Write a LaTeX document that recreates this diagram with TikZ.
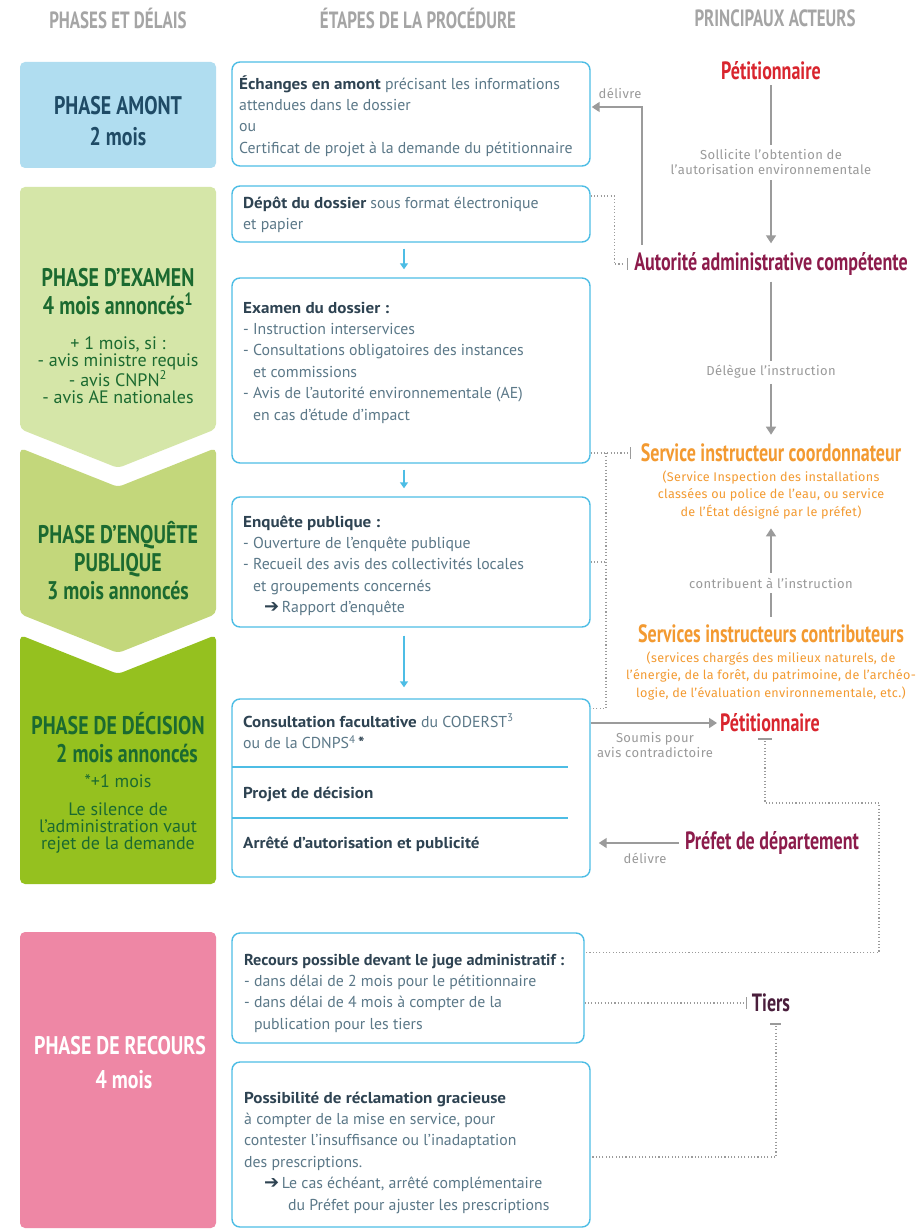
\documentclass[tikz,border=0pt]{standalone}
\usepackage{fontspec}
\setmainfont{PT Sans}
\newfontfamily\cond[FakeStretch=0.72]{PT Sans}
\newfontfamily\condph[FakeStretch=0.78]{PT Sans}
\newfontfamily\bodybold[FakeStretch=1.08]{PT Sans}
\newfontfamily\hdsix[FakeStretch=1.03]{PT Sans}
\newfontfamily\widesub[LetterSpace=2.5]{Fira Sans}
\newfontfamily\widelbl[LetterSpace=3]{Fira Sans}
\newfontfamily\dejavu{DejaVu Sans}
\usetikzlibrary{arrows.meta,fit,calc}
\definecolor{hdrgray}{HTML}{A5A5A5}
\definecolor{boxblue}{HTML}{4DBDE5}
\definecolor{headc}{HTML}{2E4352}
\definecolor{bodyc}{HTML}{5B7888}
\definecolor{amontf}{HTML}{B0DDF0}
\definecolor{amontt}{HTML}{1F4B66}
\definecolor{examf}{HTML}{D5E6A8}
\definecolor{enqf}{HTML}{C3D77B}
\definecolor{decf}{HTML}{95C11F}
\definecolor{greent}{HTML}{1B6A30}
\definecolor{recf}{HTML}{EE87A5}
\definecolor{petred}{HTML}{D9252E}
\definecolor{autmag}{HTML}{8C1B4B}
\definecolor{orangec}{HTML}{F39A31}
\definecolor{tiersc}{HTML}{4A1E3C}
\definecolor{linegray}{HTML}{9B9B9B}
\definecolor{lblgray}{HTML}{9A9A9A}
\newcommand\hd[1]{{\bodybold\bfseries\color{headc}#1}}
\newcommand\arr{{\color{headc}\dejavu\bfseries\fontsize{18}{18}\selectfont ➔}}
\begin{document}
\begin{tikzpicture}[x=1pt,y=-1pt,
  hdr/.style={font=\cond\bfseries\fontsize{23.5}{26}\selectfont, text=hdrgray, inner sep=0},
  phase/.style={font=\condph\bfseries\fontsize{25.5}{28}\selectfont, align=center, inner sep=0, text=greent},
  phasesm/.style={font=\fontsize{18}{17.3}\selectfont, align=center, inner sep=0, text=greent},
  pbox/.style={draw=boxblue, line width=1.4pt, rounded corners=8pt, inner sep=0pt, fill=white},
  btxt/.style={font=\fontsize{15.8}{21.4}\selectfont, text=bodyc, align=left, inner sep=0, anchor=north west},
  actor/.style={font=\cond\bfseries\fontsize{25}{28}\selectfont, inner sep=0},
  sub/.style={font=\widesub\fontsize{12.6}{17.5}\selectfont, text=orangec, align=center, inner sep=0},
  lbl/.style={font=\widelbl\fontsize{13}{15.5}\selectfont, text=lblgray, align=center, inner sep=0},
  gline/.style={draw=linegray, line width=1.5pt},
  garrow/.style={gline, -{Triangle[width=10pt,length=8pt]}},
  dline/.style={draw=linegray, line width=1.1pt, dash pattern=on 1.1pt off 2.2pt},
  barrow/.style={draw=boxblue, line width=1.4pt, -{Triangle[width=8pt,length=6pt]}},
  sepl/.style={draw=boxblue, line width=1.4pt}
]
\useasboundingbox (0,0) rectangle (918,1230);
\fill[white] (0,0) rectangle (918,1230);

% headers
\node[hdr] (h1) at (118,18) {PHASES ET DÉLAIS};
\node[hdr] (h2) at (418,18) {ÉTAPES DE LA PROCÉDURE};
\node[hdr] (h3) at (775,18) {PRINCIPAUX ACTEURS};

% phase shapes
\fill[amontf, rounded corners=5pt] (20,62) -- (216,62) -- (216,168) -- (20,168) -- cycle;
\fill[examf, rounded corners=5pt] (20,187) -- (216,187) -- (216,429) -- (118,468) -- (20,429) -- cycle;
\fill[enqf, rounded corners=5pt] (20,448) -- (118,487) -- (216,448) -- (216,614) -- (118,653) -- (20,614) -- cycle;
\fill[decf, rounded corners=5pt] (20,635) -- (118,674) -- (216,635) -- (216,884) -- (20,884) -- cycle;
\fill[recf, rounded corners=5pt] (20,932) -- (216,932) -- (216,1228) -- (20,1228) -- cycle;

% phase texts
\node[phase, text=amontt, font=\condph\bfseries\fontsize{25.5}{31}\selectfont] (pa) at (118,121) {PHASE AMONT\\2 mois};
\node[phase] (pe) at (118,292) {PHASE D’EXAMEN\\4 mois annoncés\textsuperscript{1}};
\node[phasesm] (pe2) at (118,370) {+ 1 mois, si :\\- avis ministre requis\\- avis CNPN\textsuperscript{2}\\- avis AE nationales};
\node[phase] (pq) at (118,561) {PHASE D’ENQUÊTE\\PUBLIQUE\\3 mois annoncés};
\node[phase] (pd) at (118,738) {PHASE DE DÉCISION\\\hspace*{18pt}2 mois annoncés};
\node[phasesm] (pd2) at (118,781) {*+1 mois};
\node[phasesm, font=\fontsize{18}{17}\selectfont] (pd3) at (118,828) {Le silence de\\l’administration vaut\\rejet de la demande};
\node[phase, text=white, font=\condph\bfseries\fontsize{25.5}{34}\selectfont] (pr) at (120,1063) {PHASE DE RECOURS\\\hspace*{8pt}4 mois};

% procedure boxes
\node[pbox, fit={(232,62)(590,166)}] (b1) {};
\node[pbox, fit={(232,186)(590,242)}] (b2) {};
\node[pbox, fit={(232,278)(590,463)}] (b3) {};
\node[pbox, fit={(232,497)(590,627)}] (b4) {};
\node[pbox, fit={(232,699)(590,877)}] (b5) {};
\node[pbox, fit={(232,933)(584,1043)}] (b6) {};
\node[pbox, fit={(232,1062)(590,1227)}] (b7) {};
\draw[sepl] (232,767) -- (568,767);
\draw[sepl] (232,818) -- (568,818);

\node[btxt] (t1) at (239,74) {\strut\hd{Échanges en amont} précisant les informations\\attendues dans le dossier\\ou\\Certificat de projet à la demande du pétitionnaire};
\node[btxt] (t2) at (243,193) {\strut\hd{Dépôt du dossier} sous format électronique\\et papier};
\node[btxt] (t3) at (243,298) {\strut\hd{Examen du dossier :}\\- Instruction interservices\\- Consultations obligatoires des instances\\\phantom{- }et commissions\\- Avis de l’autorité environnementale (AE)\\\phantom{- }en cas d’étude d’impact};
\node[btxt] (t4) at (243,512) {\strut\hd{Enquête publique :}\\- Ouverture de l’enquête publique\\- Recueil des avis des collectivités locales\\\phantom{- }et groupements concernés\\\hspace*{21pt}\arr\,Rapport d’enquête};
\node[btxt] (t5a) at (243,712) {\strut\hd{Consultation facultative} du CODERST\textsuperscript{3}\\ou de la CDNPS\textsuperscript{4}\,\hd{*}};
\node[btxt] (t5b) at (243,783) {\strut\hd{Projet de décision}};
\node[btxt] (t5c) at (243,833) {\strut\hd{Arrêté d’autorisation et publicité}};
\node[btxt] (t6) at (244,950) {\strut{\hdsix\bfseries\color{headc}Recours possible devant le juge administratif :}\\- dans délai de 2 mois pour le pétitionnaire\\- dans délai de 4 mois à compter de la\\\phantom{- }publication pour les tiers};
\node[btxt] (t7) at (244,1088) {\strut\hd{Possibilité de réclamation gracieuse}\\à compter de la mise en service, pour\\contester l’insuffisance ou l’inadaptation\\des prescriptions.\\\hspace*{20pt}\arr\,Le cas échéant, arrêté complémentaire\\\hspace*{44pt}du Préfet pour ajuster les prescriptions};

\draw[barrow, shorten <=6pt, shorten >=8pt] ([xshift=-7pt]b2.south) -- ([xshift=-7pt]b3.north);
\draw[barrow, shorten <=6pt, shorten >=8pt] ([xshift=-7pt]b3.south) -- ([xshift=-7pt]b4.north);
\draw[barrow, shorten <=8pt, shorten >=11pt] ([xshift=-7pt]b4.south) -- ([xshift=-7pt]b5.north);

% actors
\node[actor, text=petred] (p1) at (771,71) {Pétitionnaire};
\node[lbl] (l1) at (771,162) {Sollicite l’obtention de\\l’autorisation environnementale};
\node[actor, text=autmag] (aac) at (771,264) {Autorité administrative compétente};
\node[lbl] (l2) at (771,372) {Délègue l’instruction};
\node[actor, text=orangec] (sic) at (771,453) {Service instructeur coordonnateur};
\node[sub] (sic2) at (771,495) {(Service Inspection des installations\\classées ou police de l’eau, ou service\\de l’État désigné par le préfet)};
\node[lbl] (l3) at (771,583) {contribuent à l’instruction};
\node[actor, text=orangec] (sc) at (771,634) {Services instructeurs contributeurs};
\node[sub] (sc2) at (771,676) {(services chargés des milieux naturels, de\\l’énergie, de la forêt, du patrimoine, de l’archéo-\\logie, de l’évaluation environnementale, etc.)};
\node[actor, text=petred] (p2) at (770,723) {Pétitionnaire};
\node[lbl] (l4) at (655,745) {Soumis pour\\avis contradictoire};
\node[actor, text=autmag] (pref) at (772,843) {Préfet de département};
\node[lbl] (l5) at (645,858) {délivre};
\node[lbl] (l0) at (620,93) {délivre};
\node[actor, text=tiersc] (tiers) at (771,1003) {Tiers};

% actor connectors
\draw[gline, shorten <=5pt, shorten >=4pt] (p1.south) -- (l1.north);
\draw[garrow, shorten <=5pt, shorten >=9pt] (l1.south) -- (aac.north);
\draw[gline, shorten <=6pt, shorten >=4pt] (aac.south) -- (l2.north);
\draw[garrow, shorten <=5pt, shorten >=9pt] (l2.south) -- (sic.north);
\draw[gline, shorten <=8pt, shorten >=5pt] (sc.north) -- (l3.south);
\draw[garrow, shorten <=5pt, shorten >=9pt] (l3.north) -- (sic2.south);

\coordinate (dv) at (642,245);
\draw[garrow, shorten >=1pt] (dv) |- ([yshift=7pt]b1.east);

\draw[dline] ([yshift=18pt]b2.east) -| ($(aac.west)+(-20,0)$) -- ($(aac.west)+(-10,0)$);
\draw[gline, line width=1pt] ($(aac.west)+(-7,-6)$) -- ($(aac.west)+(-7,6)$);

\draw[dline] (b3.east |- sic.west) -- ($(sic.west)+(-13,0)$);
\draw[gline, line width=1pt] ($(sic.west)+(-10,-6)$) -- ($(sic.west)+(-10,6)$);
\draw[dline] (606,453) |- ([yshift=-10pt]b5.north east);
\draw[dline] (b4.east) -- +(16,0);

\draw[garrow, shorten >=3pt] (b5.east |- p2.west) -- (p2.west);
\draw[garrow, shorten <=6pt, shorten >=8pt] (pref.west) -- (b5.east |- pref.west);

\draw[gline, line width=1.2pt] ($(p2)+(-12,16)$) -- ($(p2)+(2,16)$);
\draw[dline] ($(p2)+(-5,18)$) |- (879,803) |- ([yshift=-20pt]b6.north east);

\draw[dline] (b6.east |- tiers.west) -- ($(tiers.west)+(-8,0)$);
\draw[gline, line width=1pt] ($(tiers.west)+(-5,-6)$) -- ($(tiers.west)+(-5,6)$);
\draw[gline, line width=1.2pt] ($(tiers)+(-1,21)$) -- ($(tiers)+(10,21)$);
\draw[dline] ($(tiers)+(5,23)$) |- ([yshift=-12.5pt]b7.east);
\end{tikzpicture}
\end{document}
